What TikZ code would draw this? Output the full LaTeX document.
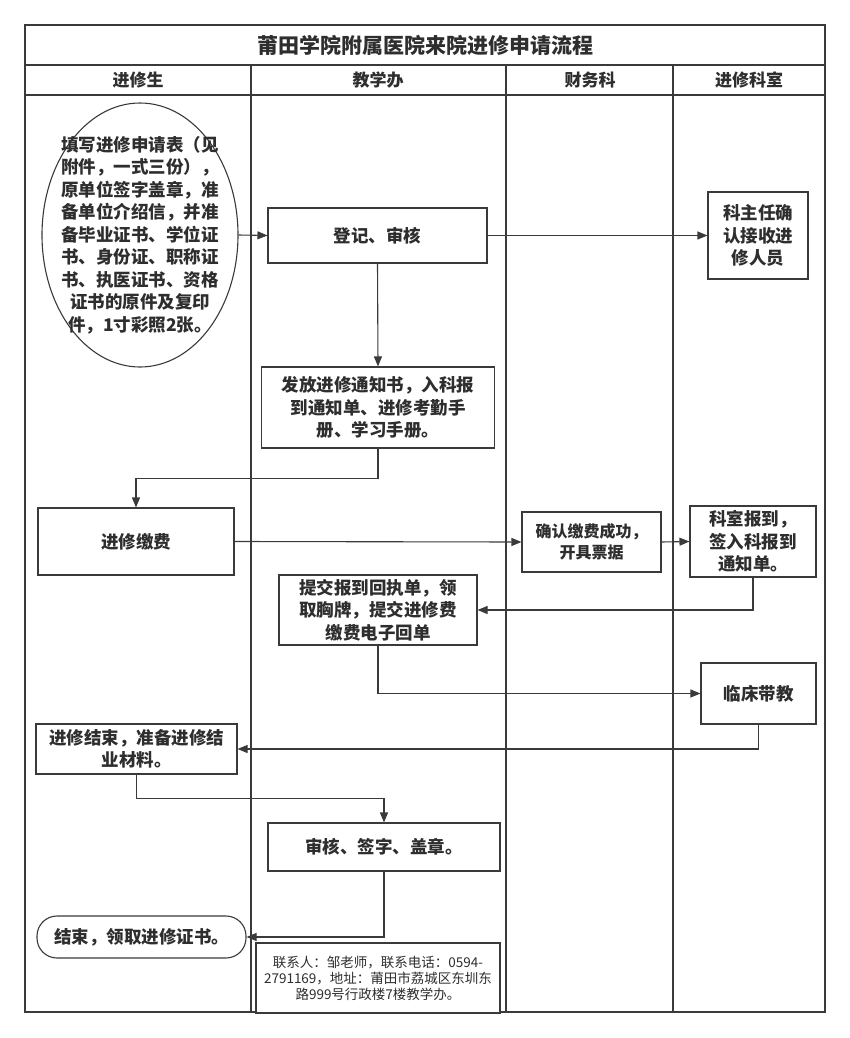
\documentclass[tikz,border=0pt]{standalone}
\usepackage{fontspec}
\setmainfont{Noto Sans CJK SC}
\usepackage{tikz}
\usetikzlibrary{shapes.geometric, arrows.meta, positioning}
\definecolor{linegray}{HTML}{3A3A3A}
\definecolor{textgray}{HTML}{2E2E2E}
\tikzset{
    frame/.style = {draw=linegray, line width=1.1pt},
    box/.style = {rectangle, draw=linegray, line width=1.1pt, fill=white, align=center, inner sep=0pt, text=textgray, font=\fontsize{17.5}{22.5}\selectfont\bfseries},
    arr/.style = {draw=linegray, line width=1.1pt, -{Triangle[length=10pt, width=8pt]}},
    head/.style = {text=textgray, font=\fontsize{17}{20}\selectfont\bfseries},
}

\begin{document}
\begin{tikzpicture}[x=1pt, y=-1pt]
    \useasboundingbox (0,0) rectangle (850,1038);
    % table frame and lanes
    \draw[frame] (25,25) rectangle (825,1012);
    \draw[frame] (25,65) -- (825,65);
    \draw[frame] (25,95) -- (825,95);
    \foreach \x in {251,506,673} {
        \draw[frame] (\x,65) -- (\x,1012);
    }
    \node[text=textgray, font=\fontsize{21}{24}\selectfont\bfseries] (title) at (425,45) {莆田学院附属医院来院进修申请流程};
    \foreach \x/\name/\id in {138/进修生/lanestu, 378/教学办/laneoffice, 590/财务科/lanefin, 749/进修科室/lanedept} {
        \node[head] (\id) at (\x,80) {\name};
    }

    % steps
    \node[box, ellipse, minimum width=196pt, minimum height=264pt] (apply) at (140,235) {};
    \node[box, draw=none, fill=none] (applytext) at (apply.center)
        {填写进修申请表（见\\附件，一式三份），\\原单位签字盖章，准\\备单位介绍信，并准\\备毕业证书、学位证\\书、身份证、职称证\\书、执医证书、资格\\证书的原件及复印\\件，1寸彩照2张。};
    \node[box, minimum width=219pt, minimum height=55pt] (register) at (377.5,235.5) {登记、审核};
    \node[box, minimum width=100pt, minimum height=87pt] (accept) at (758,235.5) {科主任确\\认接收进\\修人员};
    \node[box, minimum width=233pt, minimum height=81pt] (notice) at (378,407.5) {发放进修通知书，入科报\\到通知单、进修考勤手\\册、学习手册。};
    \node[box, minimum width=196pt, minimum height=67pt] (fee) at (136,541.5) {进修缴费};
    \node[box, minimum width=139pt, minimum height=60pt, font=\fontsize{16}{21.5}\selectfont\bfseries] (payok) at (591.5,542) {确认缴费成功，\\开具票据};
    \node[box, minimum width=126pt, minimum height=71pt] (report) at (753,541.5) {科室报到，\\签入科报到\\通知单。};
    \node[box, minimum width=198pt, minimum height=70pt] (submit) at (378,610) {提交报到回执单，领\\取胸牌，提交进修费\\缴费电子回单};
    \node[box, minimum width=115pt, minimum height=61pt] (clinic) at (758.5,693.5) {临床带教};
    \node[box, minimum width=201pt, minimum height=50pt] (finish) at (136.5,749) {进修结束，准备进修结\\业材料。};
    \node[box, minimum width=232pt, minimum height=48pt] (sign) at (384,847) {审核、签字、盖章。};
    \node[box, rounded corners=20pt, minimum width=209pt, minimum height=42pt] (end) at (141.5,937) {结束，领取进修证书。};
    \node[box, minimum width=244pt, minimum height=70pt, font=\fontsize{13.5}{16}\selectfont] (contact) at (378,978)
        {联系人：邹老师，联系电话：0594-\\2791169，地址：莆田市荔城区东圳东\\路999号行政楼7楼教学办。};

    % connectors
    \draw[arr] (apply.east) -- (register.west);
    \draw[arr] (register.east) -- (accept.west);
    \draw[arr] (register.south) -- (notice.north);
    \draw[arr] (notice.south) -- ++(0,30) -| (fee.north);
    \draw[arr] (fee.east) -- (payok.west);
    \draw[arr] (payok.east) -- (report.west);
    \draw[arr] (report.south) |- (submit.east);
    \draw[arr] (submit.south) |- (clinic.west);
    \draw[arr] (clinic.south) |- (finish.east);
    \draw[arr] (finish.south) -- ++(0,24) -| (sign.north);
    \draw[arr] (sign.south) |- (end.east);
\end{tikzpicture}
\end{document}
